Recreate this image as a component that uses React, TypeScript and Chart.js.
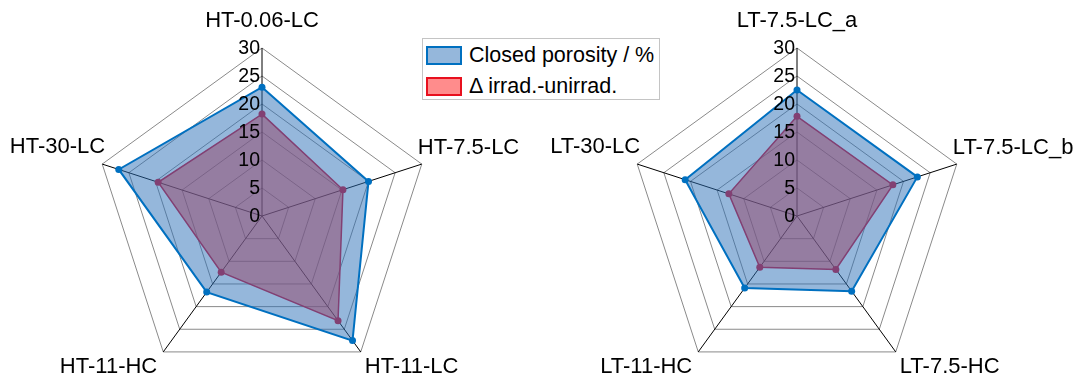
import React, { useEffect, useRef } from 'react';
import { Chart, registerables } from 'chart.js';

Chart.register(...registerables);

// High-temperature samples
const hotLabels = ['HT-0.06-LC', 'HT-7.5-LC', 'HT-11-LC', 'HT-11-HC', 'HT-30-LC'];
const hotClosed = [23.0, 20.0, 27.5, 16.8, 26.9];
const hotDelta = [18.2, 15.2, 23.1, 12.4, 19.5];

// Low-temperature samples
const lowLabels = ['LT-7.5-LC_a', 'LT-7.5-LC_b', 'LT-7.5-HC', 'LT-11-HC', 'LT-30-LC'];
const lowClosed = [22.5, 22.6, 16.6, 15.9, 21.0];
const lowDelta = [17.8, 18.0, 11.8, 11.3, 12.8];

// Radial axis
const axisMin = 0;
const axisMax = 30;
const axisStep = 5;

const seriesNames = ['Closed porosity / %', '\u0394 irrad.-unirrad.'];

const FONT = '"Liberation Sans", Arial, Helvetica, sans-serif';
const BLUE_LINE = '#0070C0';
const BLUE_FILL = 'rgba(43, 111, 183, 0.5)';
const RED_LINE = '#D8102E';
const RED_FILL = 'rgba(255, 46, 46, 0.55)';

// Category labels placed around the outer ring, plus tick numbers on the vertical axis
const radarText = {
  id: 'radarText',
  afterDatasetsDraw(chart: any) {
    const scale = chart.scales.r;
    const ctx = chart.ctx;
    ctx.save();
    // tick numbers, right-aligned against the vertical axis
    ctx.font = `19.5px ${FONT}`;
    ctx.fillStyle = '#000';
    ctx.textAlign = 'right';
    ctx.textBaseline = 'middle';
    scale.ticks.forEach((t: any) => {
      const p = scale.getPointPosition(0, scale.getDistanceFromCenterForValue(t.value));
      ctx.fillText(String(t.value), p.x - 2, p.y + 1);
    });
    // category labels
    ctx.font = `22px ${FONT}`;
    ctx.textBaseline = 'alphabetic';
    const labels: string[] = chart.data.labels;
    labels.forEach((lab, i) => {
      const p = scale.getPointPosition(i, scale.drawingArea);
      const dx = p.x - scale.xCenter;
      if (Math.abs(dx) < 1) {
        ctx.textAlign = 'center';
        ctx.fillText(lab, p.x, p.y - 21);
      } else if (p.y < scale.yCenter) {
        if (dx > 0) {
          ctx.textAlign = 'left';
          ctx.fillText(lab, p.x - 4, p.y - 10);
        } else {
          ctx.textAlign = 'right';
          ctx.fillText(lab, p.x + 3, p.y - 11);
        }
      } else {
        if (dx > 0) {
          ctx.textAlign = 'left';
          ctx.fillText(lab, p.x + 4, p.y + 21);
        } else {
          ctx.textAlign = 'right';
          ctx.fillText(lab, p.x - 6, p.y + 21);
        }
      }
    });
    ctx.restore();
  },
};

type RadarProps = {
  labels: string[];
  closed: number[];
  delta: number[];
  left: number;
  width: number;
  padLeft: number;
};

function RadarPanel({ labels, closed, delta, left, width, padLeft }: RadarProps) {
  const ref = useRef<HTMLCanvasElement | null>(null);
  useEffect(() => {
    if (!ref.current) return;
    const size = 336;
    const chart = new Chart(ref.current, {
      type: 'radar',
      data: {
        labels,
        datasets: [
          {
            label: seriesNames[0],
            data: closed,
            borderColor: BLUE_LINE,
            backgroundColor: BLUE_FILL,
            borderWidth: 2,
            pointRadius: 3.5,
            pointBackgroundColor: BLUE_LINE,
            pointBorderColor: BLUE_LINE,
            pointBorderWidth: 0,
            fill: true,
          },
          {
            label: seriesNames[1],
            data: delta,
            borderColor: RED_LINE,
            backgroundColor: RED_FILL,
            borderWidth: 1.5,
            pointRadius: 3.5,
            pointBackgroundColor: RED_LINE,
            pointBorderColor: RED_LINE,
            pointBorderWidth: 0,
            fill: true,
          },
        ],
      },
      options: {
        animation: false,
        responsive: false,
        maintainAspectRatio: false,
        layout: {
          padding: { left: padLeft, right: width - padLeft - size, top: 48, bottom: 48 },
        },
        plugins: {
          legend: { display: false },
          tooltip: { enabled: false },
        },
        scales: {
          r: {
            min: axisMin,
            max: axisMax,
            ticks: { display: false, stepSize: axisStep },
            grid: { color: '#8a8a8a', lineWidth: 1 },
            angleLines: { color: '#000000', lineWidth: 1 },
            pointLabels: { display: false },
          },
        },
      },
      plugins: [radarText],
    });
    return () => chart.destroy();
  }, []);
  return (
    <canvas
      ref={ref}
      width={width}
      height={432}
      style={{ position: 'absolute', left, top: 0, width, height: 432 }}
    />
  );
}

function LegendBox() {
  const row = (fill: string, line: string, text: string) => (
    <div style={{ display: 'flex', alignItems: 'center', height: 31 }}>
      <div
        style={{
          width: 32,
          height: 15,
          background: fill,
          border: `2px solid ${line}`,
          marginRight: 7,
          flexShrink: 0,
        }}
      />
      <span style={{ fontFamily: FONT, fontSize: 21.5, color: '#000', whiteSpace: 'nowrap' }}>{text}</span>
    </div>
  );
  return (
    <div
      style={{
        position: 'absolute',
        left: 422,
        top: 38,
        width: 238,
        height: 62,
        border: '1px solid #c4c4c4',
        background: '#fff',
        padding: '1px 0 0 3px',
        boxSizing: 'border-box',
      }}
    >
      {row('#95B7DB', BLUE_LINE, seriesNames[0])}
      {row('#FF8C8C', '#E8101E', seriesNames[1])}
    </div>
  );
}

export default function App() {
  return (
    <div
      style={{
        position: 'absolute',
        left: 0,
        top: 0,
        width: 1079,
        height: 382,
        overflow: 'hidden',
        background: '#fff',
      }}
    >
      <RadarPanel labels={hotLabels} closed={hotClosed} delta={hotDelta} left={0} width={540} padLeft={94} />
      <RadarPanel labels={lowLabels} closed={lowClosed} delta={lowDelta} left={540} width={539} padLeft={89} />
      <LegendBox />
    </div>
  );
}
